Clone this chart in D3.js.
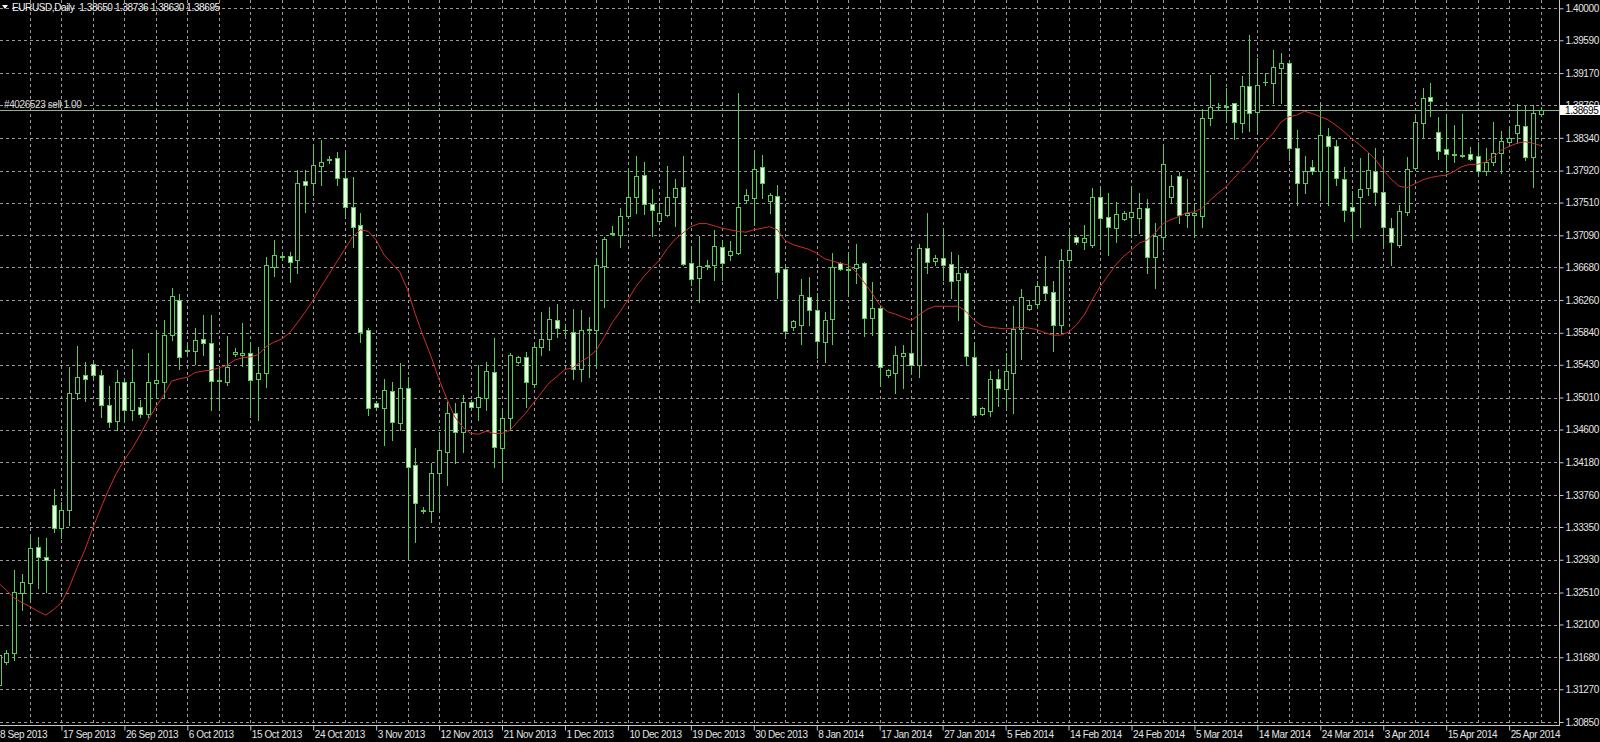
<!DOCTYPE html>
<html>
<head>
<meta charset="utf-8">
<script src="https://cdn.jsdelivr.net/npm/d3@7"></script>
<style>
  html, body { margin: 0; background: #000; overflow: hidden; }
  svg text { font-family: "Liberation Sans", Arial, sans-serif; font-size: 10px; letter-spacing: -0.4px; }
</style>
</head>
<body>
<svg id="chart" width="1600" height="742"></svg>
<script>
// EURUSD daily bars, 8 Sep 2013 .. 1 May 2014 (one entry per bar, left to right)
const opens = [
  1.3133,1.3162,1.3174,1.3251,1.3263,1.3310,1.3297,1.3363,1.3334,1.3357,
  1.3507,1.3530,1.3544,1.3530,1.3492,1.3471,1.3521,1.3485,1.3489,1.3480,
  1.3520,1.3521,1.3581,1.3626,1.3562,1.3561,1.3576,1.3571,1.3524,1.3521,
  1.3557,1.3555,1.3558,1.3525,1.3533,1.3668,1.3681,1.3682,1.3677,1.3778,
  1.3776,1.3798,1.3807,1.3808,1.3783,1.3745,1.3722,1.3588,1.3494,1.3488,
  1.3510,1.3468,1.3513,1.3415,1.3357,1.3355,1.3404,1.3431,1.3481,1.3457,
  1.3495,1.3489,1.3501,1.3534,1.3436,1.3475,1.3547,1.3553,1.3518,1.3566,
  1.3576,1.3601,1.3588,1.3585,1.3538,1.3589,1.3588,1.3670,1.3712,1.3709,
  1.3734,1.3758,1.3786,1.3749,1.3727,1.3735,1.3758,1.3771,1.3674,1.3654,
  1.3671,1.3671,1.3694,1.3684,1.3686,1.3754,1.3757,1.3797,1.3753,1.3760,
  1.3666,1.3591,1.3594,1.3630,1.3613,1.3572,1.3602,1.3674,1.3666,1.3667,
  1.3674,1.3603,1.3616,1.3530,1.3533,1.3554,1.3558,1.3543,1.3693,1.3676,
  1.3680,1.3672,1.3652,1.3661,1.3553,1.3480,1.3484,1.3525,1.3512,1.3533,
  1.3589,1.3615,1.3621,1.3644,1.3636,1.3594,1.3677,1.3707,1.3700,1.3696,
  1.3758,1.3732,1.3718,1.3730,1.3732,1.3731,1.3744,1.3681,1.3707,1.3758,
  1.3785,1.3735,1.3735,1.3734,1.3859,1.3873,1.3875,1.3879,1.3853,1.3900,
  1.3867,1.3906,1.3904,1.3924,1.3930,1.3821,1.3776,1.3796,1.3791,1.3836,
  1.3823,1.3781,1.3745,1.3758,1.3770,1.3792,1.3765,1.3718,1.3696,1.3739,
  1.3795,1.3853,1.3886,1.3842,1.3820,1.3813,1.3812,1.3813,1.3811,1.3791,
  1.3803,1.3815,1.3829,1.3840,1.3849,1.3810,1.38650
];
const highs = [
  1.3177,1.3177,1.3280,1.3275,1.3322,1.3322,1.3321,1.3384,1.3367,1.3540,
  1.3567,1.3547,1.3545,1.3536,1.3516,1.3536,1.3523,1.3563,1.3498,1.3558,
  1.3588,1.3601,1.3642,1.3634,1.3568,1.3590,1.3607,1.3607,1.3540,1.3580,
  1.3565,1.3597,1.3572,1.3566,1.3681,1.3703,1.3686,1.3687,1.3793,1.3793,
  1.3825,1.3831,1.3811,1.3816,1.3815,1.3784,1.3738,1.3590,1.3497,1.3525,
  1.3521,1.3545,1.3527,1.3436,1.3361,1.3417,1.3457,1.3495,1.3494,1.3504,
  1.3498,1.3543,1.3547,1.3577,1.3485,1.3558,1.3554,1.3560,1.3572,1.3611,
  1.3617,1.3621,1.3594,1.3615,1.3613,1.3604,1.3680,1.3707,1.3721,1.3744,
  1.3794,1.3811,1.3803,1.3768,1.3751,1.3798,1.3781,1.3811,1.3694,1.3708,
  1.3677,1.3716,1.3703,1.3702,1.3892,1.3768,1.3817,1.3812,1.3763,1.3774,
  1.3668,1.3600,1.3653,1.3656,1.3635,1.3611,1.3686,1.3675,1.3686,1.3698,
  1.3675,1.3649,1.3620,1.3538,1.3567,1.3568,1.3584,1.3698,1.3738,1.3684,
  1.3716,1.3688,1.3684,1.3665,1.3572,1.3489,1.3535,1.3538,1.3558,1.3618,
  1.3640,1.3626,1.3650,1.3683,1.3650,1.3692,1.3716,1.3709,1.3722,1.3770,
  1.3771,1.3763,1.3752,1.3740,1.3771,1.3763,1.3755,1.3725,1.3825,1.3786,
  1.3790,1.3781,1.3748,1.3871,1.3914,1.3879,1.3898,1.3879,1.3913,1.3966,
  1.3936,1.3917,1.3947,1.3943,1.3934,1.3844,1.3811,1.3806,1.3875,1.3847,
  1.3831,1.3797,1.3766,1.3808,1.3815,1.3821,1.3808,1.3731,1.3748,1.3809,
  1.3861,1.3898,1.3904,1.3861,1.3861,1.3850,1.3865,1.3822,1.3829,1.3821,
  1.3854,1.3843,1.3848,1.3877,1.3876,1.3876,1.38736
];
const lows = [
  1.3121,1.3159,1.3165,1.3229,1.3242,1.3257,1.3252,1.3329,1.3321,1.3338,
  1.3499,1.3497,1.3526,1.3476,1.3463,1.3459,1.3470,1.3472,1.3476,1.3476,
  1.3502,1.3502,1.3575,1.3538,1.3558,1.3544,1.3556,1.3485,1.3485,1.3517,
  1.3554,1.3542,1.3476,1.3472,1.3515,1.3657,1.3677,1.3649,1.3661,1.3739,
  1.3761,1.3774,1.3802,1.3774,1.3735,1.3694,1.3572,1.3479,1.3486,1.3440,
  1.3447,1.3459,1.3297,1.3316,1.3353,1.3341,1.3357,1.3389,1.3417,1.3431,
  1.3488,1.3472,1.3485,1.3412,1.3395,1.3459,1.3545,1.3489,1.3515,1.3556,
  1.3562,1.3579,1.3581,1.3525,1.3522,1.3527,1.3542,1.3617,1.3709,1.3694,
  1.3733,1.3738,1.3736,1.3708,1.3726,1.3734,1.3721,1.3671,1.3645,1.3624,
  1.3666,1.3652,1.3652,1.3677,1.3685,1.3752,1.3722,1.3757,1.3738,1.3629,
  1.3581,1.3588,1.3570,1.3594,1.3552,1.3547,1.3570,1.3665,1.3635,1.3648,
  1.3580,1.3581,1.3516,1.3527,1.3507,1.3513,1.3533,1.3527,1.3661,1.3671,
  1.3652,1.3629,1.3600,1.3543,1.3476,1.3479,1.3477,1.3490,1.3489,1.3481,
  1.3551,1.3613,1.3616,1.3627,1.3561,1.3584,1.3670,1.3698,1.3692,1.3694,
  1.3692,1.3684,1.3700,1.3729,1.3707,1.3712,1.3661,1.3641,1.3692,1.3752,
  1.3725,1.3720,1.3707,1.3720,1.3850,1.3870,1.3857,1.3832,1.3841,1.3843,
  1.3843,1.3902,1.3879,1.3879,1.3806,1.3748,1.3763,1.3788,1.3758,1.3748,
  1.3774,1.3727,1.3703,1.3720,1.3761,1.3748,1.3697,1.3671,1.3694,1.3735,
  1.3793,1.3835,1.3862,1.3807,1.3790,1.3803,1.3809,1.3806,1.3786,1.3786,
  1.3799,1.3789,1.3827,1.3827,1.3806,1.3771,1.38630
];
const closes = [
  1.3171,1.3174,1.3252,1.3265,1.3308,1.3297,1.3293,1.3334,1.3357,1.3507,
  1.3527,1.3525,1.3530,1.3492,1.3470,1.3521,1.3485,1.3521,1.3480,1.3521,
  1.3523,1.3581,1.3631,1.3553,1.3561,1.3575,1.3571,1.3522,1.3522,1.3540,
  1.3560,1.3558,1.3523,1.3533,1.3671,1.3684,1.3682,1.3675,1.3776,1.3774,
  1.3799,1.3803,1.3806,1.3783,1.3745,1.3720,1.3585,1.3488,1.3489,1.3511,
  1.3470,1.3513,1.3412,1.3366,1.3356,1.3404,1.3434,1.3481,1.3457,1.3495,
  1.3489,1.3502,1.3535,1.3438,1.3475,1.3556,1.3553,1.3521,1.3566,1.3576,
  1.3602,1.3590,1.3587,1.3538,1.3588,1.3588,1.3671,1.3704,1.3711,1.3734,
  1.3758,1.3785,1.3749,1.3741,1.3737,1.3758,1.3770,1.3672,1.3653,1.3670,
  1.3670,1.3695,1.3674,1.3689,1.3745,1.3761,1.3794,1.3776,1.3761,1.3662,
  1.3586,1.3599,1.3633,1.3613,1.3574,1.3601,1.3668,1.3666,1.3665,1.3672,
  1.3603,1.3616,1.3540,1.3536,1.3556,1.3558,1.3543,1.3693,1.3675,1.3680,
  1.3671,1.3650,1.3661,1.3554,1.3479,1.3488,1.3525,1.3513,1.3535,1.3589,
  1.3630,1.3620,1.3644,1.3635,1.3594,1.3677,1.3690,1.3700,1.3705,1.3758,
  1.3731,1.3720,1.3736,1.3737,1.3739,1.3744,1.3681,1.3708,1.3800,1.3772,
  1.3735,1.3738,1.3738,1.3859,1.3873,1.3874,1.3874,1.3854,1.3900,1.3866,
  1.3902,1.3905,1.3925,1.3930,1.3821,1.3776,1.3792,1.3791,1.3838,1.3823,
  1.3783,1.3741,1.3740,1.3768,1.3793,1.3765,1.3720,1.3700,1.3740,1.3794,
  1.3854,1.3885,1.3881,1.3817,1.3813,1.3812,1.3811,1.3807,1.3792,1.3803,
  1.3815,1.3830,1.3834,1.3851,1.3810,1.3866,1.38695
];
// red moving average
const maValues = [
  1.3263,1.3254,1.3244,1.3238,1.3233,1.3227,1.3222,1.3229,1.3238,1.3258,
  1.3283,1.3306,1.3334,1.3359,1.3383,1.3404,1.3421,1.3436,1.3453,1.3472,
  1.3489,1.3504,1.3522,1.3525,1.3527,1.3533,1.3535,1.3536,1.3539,1.3542,
  1.3549,1.3552,1.3553,1.3556,1.3566,1.3572,1.3576,1.3584,1.3597,1.3611,
  1.3626,1.3643,1.3659,1.3675,1.3691,1.3707,1.3716,1.3714,1.3703,1.3684,
  1.3673,1.3662,1.3639,1.3607,1.3579,1.3553,1.3524,1.3499,1.3476,1.3463,
  1.3455,1.3454,1.3458,1.3455,1.3455,1.3459,1.3470,1.3481,1.3494,1.3507,
  1.3520,1.3528,1.3537,1.3539,1.3547,1.3553,1.3562,1.3579,1.3597,1.3611,
  1.3626,1.3643,1.3656,1.3667,1.3677,1.3692,1.3704,1.3712,1.3720,1.3724,
  1.3724,1.3721,1.3718,1.3716,1.3714,1.3713,1.3716,1.3718,1.3720,1.3716,
  1.3702,1.3697,1.3694,1.3691,1.3686,1.3679,1.3676,1.3673,1.3671,1.3662,
  1.3649,1.3635,1.3620,1.3611,1.3608,1.3604,1.3600,1.3607,1.3614,1.3618,
  1.3618,1.3618,1.3618,1.3611,1.3600,1.3593,1.3591,1.3590,1.3589,1.3590,
  1.3591,1.3590,1.3588,1.3584,1.3581,1.3581,1.3585,1.3594,1.3607,1.3626,
  1.3643,1.3657,1.3671,1.3682,1.3690,1.3699,1.3703,1.3712,1.3724,1.3729,
  1.3733,1.3738,1.3739,1.3744,1.3754,1.3763,1.3771,1.3782,1.3793,1.3803,
  1.3818,1.3829,1.3840,1.3854,1.3861,1.3863,1.3868,1.3865,1.3861,1.3857,
  1.3850,1.3842,1.3833,1.3825,1.3816,1.3806,1.3793,1.3781,1.3772,1.3770,
  1.3775,1.3780,1.3783,1.3785,1.3786,1.3791,1.3797,1.3800,1.3800,1.3803,
  1.3809,1.3818,1.3823,1.3827,1.3829,1.3827,1.3824
];
const priceTicks = [
  1.40000,1.39590,1.39170,1.38760,1.38340,1.37920,1.37510,1.37090,1.36680,1.36260,
  1.35840,1.35430,1.35010,1.34600,1.34180,1.33760,1.33350,1.32930,1.32510,1.32100,
  1.31680,1.31270,1.30850
];
const dateLabels = [
  '8 Sep 2013','17 Sep 2013','26 Sep 2013','6 Oct 2013','15 Oct 2013','24 Oct 2013',
  '3 Nov 2013','12 Nov 2013','21 Nov 2013','1 Dec 2013','10 Dec 2013','19 Dec 2013',
  '30 Dec 2013','8 Jan 2014','17 Jan 2014','27 Jan 2014','5 Feb 2014','14 Feb 2014',
  '24 Feb 2014','5 Mar 2014','14 Mar 2014','24 Mar 2014','3 Apr 2014','15 Apr 2014',
  '25 Apr 2014'
];
const symbol = 'EURUSD,Daily';
const lastBar = [1.38650, 1.38736, 1.38630, 1.38695];
const orderTicket = '#4026523';
const orderLots = 1.00;
const orderPrice = 1.38695;

const svg = d3.select('#chart');
const plotRight = 1559;
const plotBottom = 725;
const green = '#5acb5a';
const gridColor = '#9a9a9a';
const textColor = '#e4e4e4';

const x = d3.scaleLinear().domain([0, opens.length - 1]).range([-1.5, 1540.6]);
const y = d3.scaleLinear().domain([1.30850, 1.39590]).range([722, 40.3]);
const px = (v) => Math.round(v);

const bars = opens.map((o, i) => ({i, o, h: highs[i], l: lows[i], c: closes[i]}));

svg.append('defs').append('clipPath').attr('id', 'plot')
    .append('rect').attr('x', 0).attr('y', 0)
    .attr('width', plotRight).attr('height', plotBottom);

// grid
const grid = svg.append('g')
    .attr('stroke', gridColor)
    .attr('stroke-dasharray', '3,3')
    .attr('shape-rendering', 'crispEdges');
grid.selectAll('line.h').data(priceTicks).join('line')
    .attr('class', 'h')
    .attr('x1', 0).attr('x2', plotRight)
    .attr('y1', (d) => px(y(d)) + 0.5)
    .attr('y2', (d) => px(y(d)) + 0.5);
grid.selectAll('line.v').data(d3.range(4, opens.length, 4)).join('line')
    .attr('class', 'v')
    .attr('y1', 0).attr('y2', plotBottom)
    .attr('x1', (d) => px(x(d)) + 0.5)
    .attr('x2', (d) => px(x(d)) + 0.5);

// order level
svg.append('line')
    .attr('x1', 0).attr('x2', plotRight)
    .attr('y1', px(y(orderPrice)) + 0.5).attr('y2', px(y(orderPrice)) + 0.5)
    .attr('stroke', '#98ad98')
    .attr('shape-rendering', 'crispEdges');
svg.append('text')
    .attr('x', 4).attr('y', px(y(orderPrice)) - 2)
    .attr('fill', '#d8d8d8')
    .text(`${orderTicket} sell ${orderLots.toFixed(2)}`);

// candles
const candles = svg.append('g')
    .attr('clip-path', 'url(#plot)')
    .attr('shape-rendering', 'crispEdges')
    .selectAll('g').data(bars).join('g');

candles.append('rect')
    .attr('x', (d) => px(x(d.i)))
    .attr('y', (d) => px(y(d.h)))
    .attr('width', 1)
    .attr('height', (d) => Math.max(1, px(y(d.l)) - px(y(d.h)) + 1))
    .attr('fill', green);

const bodyTop = (d) => px(y(Math.max(d.o, d.c)));
const bodyBottom = (d) => px(y(Math.min(d.o, d.c)));

candles.append('rect')
    .attr('x', (d) => px(x(d.i)) - 2)
    .attr('y', bodyTop)
    .attr('width', 5)
    .attr('height', (d) => bodyBottom(d) - bodyTop(d) + 1)
    .attr('fill', green);

candles.filter((d) => bodyBottom(d) - bodyTop(d) >= 2)
    .append('rect')
    .attr('x', (d) => px(x(d.i)) - 1)
    .attr('y', (d) => bodyTop(d) + 1)
    .attr('width', 3)
    .attr('height', (d) => bodyBottom(d) - bodyTop(d) - 1)
    .attr('fill', (d) => d.c >= d.o ? '#000' : '#eafbe4');

// moving average
svg.append('path')
    .datum(maValues)
    .attr('clip-path', 'url(#plot)')
    .attr('fill', 'none')
    .attr('stroke', '#cc2f2b')
    .attr('stroke-width', 1)
    .attr('d', d3.line().x((d, i) => x(i)).y((d) => y(d)));

// price axis
const yAxis = d3.axisRight(y)
    .tickValues(priceTicks)
    .tickFormat(d3.format('.5f'))
    .tickSize(4)
    .tickPadding(2)
    .tickSizeOuter(0);
svg.append('g')
    .attr('transform', `translate(${plotRight + 0.5},0)`)
    .call(yAxis)
    .call((g) => g.select('.domain').remove())
    .call((g) => g.attr('font-family', null).attr('font-size', null))
    .call((g) => g.selectAll('line').attr('stroke', '#c8c8c8'))
    .call((g) => g.selectAll('text').attr('fill', textColor));

// time axis
const xAxis = d3.axisBottom(x)
    .tickValues(d3.range(0, opens.length, 8))
    .tickFormat((d, k) => dateLabels[k])
    .tickSize(5)
    .tickPadding(0)
    .tickSizeOuter(0);
svg.append('g')
    .attr('transform', `translate(0,${plotBottom + 0.5})`)
    .call(xAxis)
    .call((g) => g.select('.domain').remove())
    .call((g) => g.attr('font-family', null).attr('font-size', null))
    .call((g) => g.selectAll('line').attr('stroke', '#c8c8c8'))
    .call((g) => g.selectAll('text')
        .attr('text-anchor', 'start')
        .attr('x', 1)
        .attr('fill', textColor));

// borders
svg.append('path')
    .attr('d', `M0,${plotBottom + 0.5}H${plotRight + 0.5}V0`)
    .attr('fill', 'none')
    .attr('stroke', '#c8c8c8')
    .attr('shape-rendering', 'crispEdges');

// current price tag
const tagY = px(y(orderPrice));
svg.append('rect')
    .attr('x', plotRight + 1).attr('y', tagY - 5)
    .attr('width', 1600 - plotRight - 1).attr('height', 10)
    .attr('fill', '#fff');
svg.append('text')
    .attr('x', plotRight + 6).attr('y', tagY)
    .attr('dy', '0.35em')
    .attr('fill', '#000')
    .text(orderPrice.toFixed(5));

// header
svg.append('path')
    .attr('d', 'M2,5L8,5L5,9Z')
    .attr('fill', '#fff');
svg.append('text')
    .attr('x', 12).attr('y', 11)
    .attr('fill', '#f0f0f0')
    .style('white-space', 'pre')
    .text(`${symbol}  ${lastBar.map((v) => v.toFixed(5)).join(' ')}`);
</script>
</body>
</html>
